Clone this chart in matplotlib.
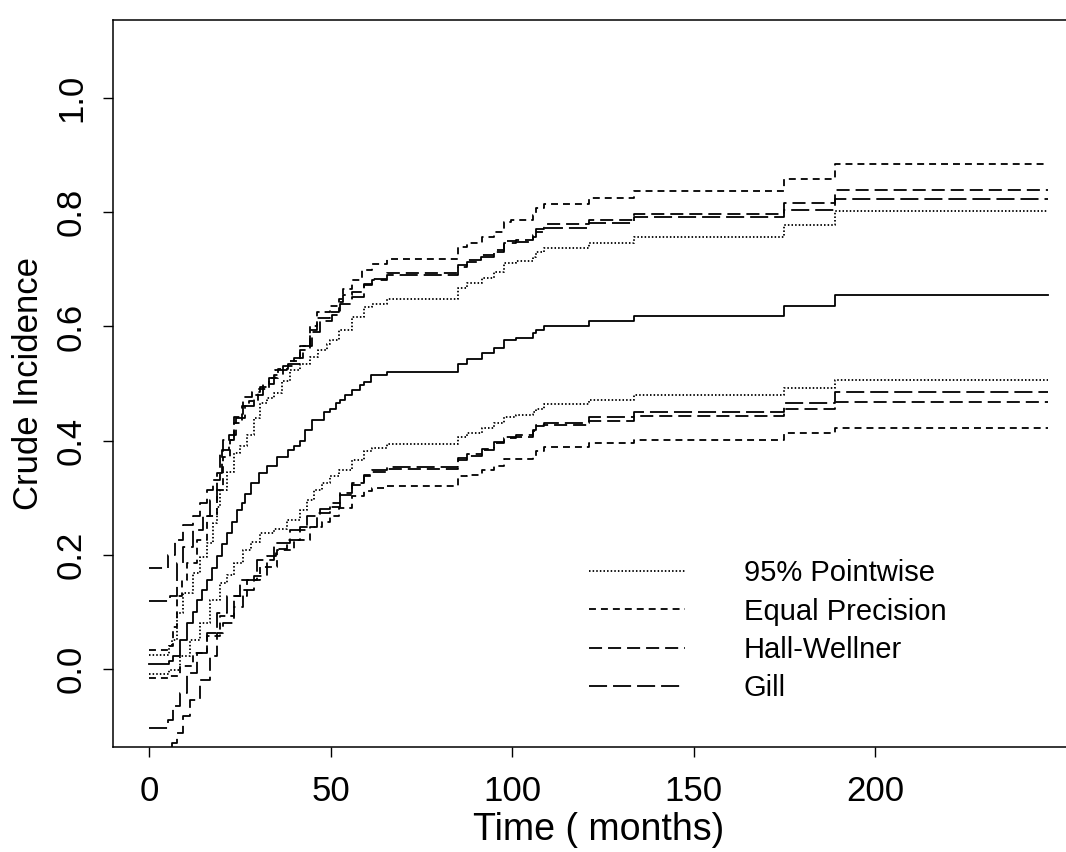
import matplotlib.pyplot as plt

plt.rcParams['font.family'] = ['Liberation Sans', 'DejaVu Sans']
plt.rcParams['lines.scale_dashes'] = False

# last follow-up time (months)
t_end = 247.5

# crude incidence estimate (step values, value holds from each time on)
est_t = [0, 5.5, 6.7, 8.6, 10.4, 12, 13.2, 14.5, 15.9, 17.3, 18.7, 20, 21.4, 22.8, 24.2, 25.5,
         26.5, 28, 30.2, 32.5, 35.2, 38.4, 40, 41.7, 43, 44.9, 48.1, 49.9, 51.5, 52.7, 54, 55.9,
         58, 59.1, 61, 65.6, 85.1, 87.6, 91.8, 95, 97.8, 101, 105.6, 106.5, 108.8, 121, 133.6,
         174.8, 188.8]
est_v = [0.008, 0.014, 0.022, 0.051, 0.08, 0.10, 0.121, 0.138, 0.156, 0.176, 0.197, 0.218, 0.238,
         0.258, 0.278, 0.29, 0.307, 0.325, 0.343, 0.355, 0.372, 0.383, 0.39, 0.40, 0.418, 0.436,
         0.45, 0.456, 0.465, 0.471, 0.48, 0.489, 0.497, 0.503, 0.515, 0.52, 0.535, 0.543, 0.553,
         0.563, 0.576, 0.58, 0.588, 0.594, 0.601, 0.61, 0.619, 0.636, 0.655]

# 95% pointwise
pw_up_t = [0, 5.5, 6.3, 7.6, 9.5, 12.2, 14, 15.9, 17.7, 18.7, 19.6, 21.4, 23.3, 25.1, 27, 28.8,
           30.6, 32.5, 34.3, 36.5, 38.9, 41.7, 44.4, 46.5, 49, 49.9, 52.2, 55.9, 59.1, 61.4, 65.6,
           85.1, 87.6, 91.8, 95, 97.8, 101, 105.6, 106.5, 108.8, 121, 133.6, 174.8, 188.8]
pw_up_v = [0.0245, 0.04, 0.051, 0.097, 0.133, 0.168, 0.195, 0.22, 0.255, 0.284, 0.313, 0.345,
           0.378, 0.39, 0.41, 0.44, 0.465, 0.475, 0.483, 0.505, 0.524, 0.535, 0.547, 0.558, 0.57,
           0.576, 0.594, 0.617, 0.634, 0.64, 0.649, 0.667, 0.676, 0.685, 0.696, 0.711, 0.714,
           0.722, 0.731, 0.738, 0.747, 0.757, 0.778, 0.802]
pw_lo_t = [0, 5.5, 8.6, 11.3, 14.1, 16.8, 19.6, 21.4, 23.3, 26, 28, 30.6, 34.3, 38, 41.7, 43.5,
           45.3, 47.5, 49.9, 52.2, 55.9, 59.1, 61.4, 65.6, 85.1, 87.6, 91.8, 95, 97.8, 101, 105.6,
           106.5, 108.8, 121, 133.6, 174.8, 188.8]
pw_lo_v = [-0.009, -0.002, 0.0215, 0.051, 0.08, 0.121, 0.15, 0.165, 0.185, 0.208, 0.222, 0.238,
           0.245, 0.261, 0.278, 0.295, 0.313, 0.325, 0.337, 0.349, 0.366, 0.381, 0.387, 0.394,
           0.407, 0.413, 0.4216, 0.4305, 0.442, 0.445, 0.4506, 0.456, 0.464, 0.471, 0.48, 0.4916,
           0.506]

# equal precision
ep_up_t = [0, 5.5, 6.7, 7.6, 9, 10.4, 13.2, 15.9, 18.7, 20.5, 22.3, 23.5, 25.5, 27.5, 30, 33,
           35.5, 38.4, 41.7, 44.4, 46.3, 49.9, 52.2, 53.5, 55.9, 58.7, 61.4, 65.6, 85.1, 87.6,
           91.8, 95, 97.8, 99.6, 105.6, 106.5, 108.8, 121, 133.6, 174.8, 188.8]
ep_up_v = [0.032, 0.039, 0.074, 0.127, 0.156, 0.185, 0.226, 0.267, 0.313, 0.372, 0.401, 0.43,
           0.46, 0.47, 0.49, 0.51, 0.525, 0.54, 0.565, 0.6, 0.625, 0.635, 0.648, 0.665, 0.681,
           0.699, 0.71, 0.719, 0.7396, 0.7466, 0.757, 0.766, 0.783, 0.786, 0.795, 0.807, 0.815,
           0.826, 0.838, 0.859, 0.884]
ep_lo_t = [0, 5.5, 8.6, 12.2, 15.9, 19.6, 23.3, 27, 30.6, 35.2, 39.8, 44.4, 47.5, 49.9, 52.2,
           55.9, 59.1, 61.4, 65.6, 85.1, 87.6, 91.8, 95, 97.8, 101, 105.6, 106.5, 108.8, 121,
           133.6, 174.8, 188.8]
ep_lo_v = [-0.017, -0.013, 0.004, 0.0275, 0.0566, 0.0916, 0.127, 0.156, 0.179, 0.208, 0.226,
           0.249, 0.258, 0.267, 0.281, 0.302, 0.311, 0.317, 0.321, 0.337, 0.34, 0.349, 0.355,
           0.367, 0.368, 0.373, 0.382, 0.388, 0.395, 0.401, 0.413, 0.4226]

# Hall-Wellner
hw_up_t = [0, 5.3, 7.2, 9.5, 12.2, 14.1, 15.9, 17.7, 19.6, 20.5, 23.3, 26, 28.5, 30.6, 33, 34.8,
           38.4, 41.7, 44.4, 46.3, 49.9, 52.2, 53.5, 55.9, 59.1, 61.4, 65.6, 85.1, 87.6, 91.3, 95,
           97.8, 101, 105.6, 106.5, 108.8, 121, 133.6, 174.8, 188.8]
hw_up_v = [0.177, 0.2, 0.226, 0.252, 0.267, 0.29, 0.313, 0.331, 0.378, 0.401, 0.442, 0.477,
           0.485, 0.494, 0.51, 0.524, 0.535, 0.559, 0.594, 0.615, 0.625, 0.643, 0.655, 0.66,
           0.675, 0.684, 0.693, 0.708, 0.716, 0.725, 0.734, 0.749, 0.752, 0.761, 0.77, 0.779,
           0.786, 0.797, 0.817, 0.839]
hw_lo_t = [0, 6.3, 7.6, 9.5, 11.3, 14.1, 16.8, 18.7, 20.5, 23.3, 26, 28.8, 32.5, 35, 38, 41.7,
           46.3, 49.9, 52.7, 55.9, 59.1, 61.4, 65.6, 85.1, 87.6, 91.8, 95, 97.8, 101, 105.6,
           106.5, 108.8, 121, 133.6, 174.8, 188.8]
hw_lo_v = [-0.163, -0.13, -0.113, -0.083, -0.054, -0.019, 0.0215, 0.0625, 0.08, 0.109, 0.138,
           0.162, 0.197, 0.21, 0.226, 0.249, 0.273, 0.284, 0.305, 0.322, 0.337, 0.345, 0.35,
           0.366, 0.373, 0.383, 0.395, 0.404, 0.407, 0.416, 0.425, 0.428, 0.435, 0.443, 0.455,
           0.468]

# Gill
gill_up_t = [0, 5.8, 7.6, 9.5, 12.2, 15, 16.8, 18.7, 20, 22, 24, 26.5, 29, 31.5, 34.5, 37, 40,
             42.5, 45, 47, 50.5, 52.7, 55.9, 59.1, 61.4, 65.6, 85.1, 87.6, 91.3, 95, 97.8, 101,
             105.6, 106.5, 108.8, 121, 133.6, 174.8, 188.8]
gill_up_v = [0.118, 0.127, 0.185, 0.214, 0.243, 0.267, 0.296, 0.343, 0.384, 0.41, 0.44, 0.46,
             0.48, 0.5, 0.515, 0.53, 0.545, 0.565, 0.59, 0.61, 0.62, 0.64, 0.652, 0.672, 0.681,
             0.69, 0.7046, 0.713, 0.722, 0.731, 0.7455, 0.748, 0.757, 0.766, 0.773, 0.7805,
             0.791, 0.805, 0.8226]
gill_lo_t = [0, 5.3, 6.7, 8.6, 10.4, 13.2, 15.9, 18.7, 21.4, 25.1, 29.7, 34.3, 38.9, 43.5, 47,
             49.9, 52.7, 55.9, 59.1, 61.4, 65.6, 85.1, 87.6, 91.8, 95, 97.8, 101, 105.6, 106.5,
             108.8, 121, 133.6, 174.8, 188.8]
gill_lo_v = [-0.104, -0.09, -0.066, -0.043, -0.008, 0.0275, 0.0625, 0.0975, 0.127, 0.156, 0.191,
             0.22, 0.243, 0.267, 0.28, 0.29, 0.308, 0.325, 0.34, 0.348, 0.353, 0.369, 0.376,
             0.386, 0.398, 0.407, 0.41, 0.419, 0.428, 0.431, 0.441, 0.4495, 0.466, 0.4846]

x_ticks = [0, 50, 100, 150, 200]
y_ticks = [0.0, 0.2, 0.4, 0.6, 0.8, 1.0]

styles = {
    '95% Pointwise': (0, (1.1, 1.5)),
    'Equal Precision': (0, (5, 3.6)),
    'Hall-Wellner': (0, (9.4, 4.3)),
    'Gill': (0, (13, 4.3)),
}
bands = {
    '95% Pointwise': [(pw_up_t, pw_up_v), (pw_lo_t, pw_lo_v)],
    'Equal Precision': [(ep_up_t, ep_up_v), (ep_lo_t, ep_lo_v)],
    'Hall-Wellner': [(hw_up_t, hw_up_v), (hw_lo_t, hw_lo_v)],
    'Gill': [(gill_up_t, gill_up_v), (gill_lo_t, gill_lo_v)],
}

fig = plt.figure(figsize=(10.66, 8.52), dpi=100)
# right side of the frame runs past the edge of the picture, as in the scan
ax = fig.add_axes([113 / 1066, 105 / 852, 971 / 1066, 727 / 852])

lw = 1.3
ax.step(est_t + [t_end], est_v + [est_v[-1]], where='post', color='black', lw=lw)

handles = []
for name, curves in bands.items():
    for t, v in curves:
        line, = ax.step(t + [t_end], v + [v[-1]], where='post', color='black', lw=lw,
                        linestyle=styles[name])
    line.set_label(name)
    handles.append(line)

ax.set_xlim(-9.9, 257.4)
ax.set_ylim(-0.1372, 1.1372)
ax.set_xticks(x_ticks)
ax.set_yticks(y_ticks)
ax.set_xticklabels([str(x) for x in x_ticks])
ax.set_yticklabels(['%.1f' % y for y in y_ticks])
ax.tick_params(length=7, width=1.0, labelsize=25, direction='out')
ax.tick_params(axis='x', pad=13)
ax.tick_params(axis='y', pad=11)
plt.setp(ax.get_yticklabels(), rotation=90, va='center')

for s in ax.spines.values():
    s.set_linewidth(1.1)

ax.set_xlabel('Time ( months)', fontsize=27, labelpad=3)
ax.set_ylabel('Crude Incidence', fontsize=25, labelpad=7)

ax.legend(handles=handles, loc='upper left', bbox_to_anchor=(589 / 1066, 1 - 559 / 852),
          bbox_transform=fig.transFigure, frameon=False, fontsize=21, handlelength=3.3,
          handletextpad=2.0, labelspacing=0.36, borderpad=0, borderaxespad=0)

fig.savefig('out.png', dpi=100)
